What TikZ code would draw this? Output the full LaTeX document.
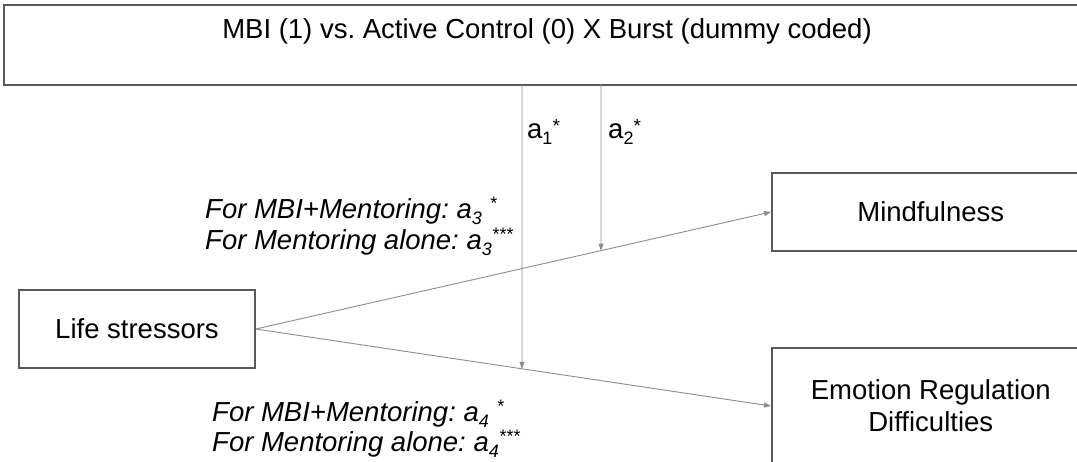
\documentclass[tikz,border=0pt]{standalone}
\usepackage{fontspec}
\setmainfont{Liberation Sans}
\usetikzlibrary{arrows.meta,calc}
\frenchspacing
\newcommand{\mysub}[1]{\raisebox{-6pt}{\fontsize{18}{18}\selectfont #1}}
\newcommand{\mysupi}[1]{\raisebox{9pt}{\fontsize{18}{18}\selectfont #1}}
\newcommand{\mysupa}[1]{\raisebox{6pt}{\fontsize{19}{19}\selectfont #1}}
\begin{document}
\begin{tikzpicture}[x=1pt,y=-1pt,
  box/.style={draw=black!65,line width=1.5pt,fill=white,inner sep=0pt,font=\fontsize{27.5}{32}\selectfont,align=center},
  conn/.style={draw=black!45,line width=0.9pt,-{Triangle[length=7pt,width=5pt]}},
  lab/.style={font=\fontsize{27.5}{28}\selectfont,inner sep=0pt},
  ilab/.style={font=\fontsize{27.5}{28}\selectfont\itshape,inner sep=0pt,text height=21pt,text depth=6pt,anchor=base west}]
\clip (0,0) rectangle (1077,461);
\fill[white] (0,0) rectangle (1077,461);
% boxes
\node[box,minimum width=1087pt,minimum height=80pt,anchor=north west] (top) at (3,4) {};
\node[lab] (toptext) at (547,31) {MBI (1) vs. Active Control (0) X Burst (dummy coded)};
\node[box,minimum width=236pt,minimum height=78pt] (ls) at (137,329) {Life stressors};
\node[box,minimum width=318pt,minimum height=78pt,anchor=west] (mf) at (771,212) {Mindfulness};
\node[box,minimum width=318pt,minimum height=116pt,anchor=west] (er) at (771,406) {Emotion Regulation\\Difficulties};
% paths
\coordinate (lsE) at (ls.east);
\coordinate (mfW) at (mf.west);
\coordinate (erW) at (er.west);
\draw[conn] (lsE) -- (mfW);
\draw[conn] (lsE) -- (erW);
\coordinate (a1s) at (522,84);
\coordinate (a1b) at (522,460);
\coordinate (a2s) at (601,84);
\coordinate (a2b) at (601,460);
\coordinate (a1e) at (intersection of lsE--erW and a1s--a1b);
\coordinate (a2e) at (intersection of lsE--mfW and a2s--a2b);
\draw[conn] (a1s) -- (a1e);
\draw[conn] (a2s) -- (a2e);
% labels
\node[lab,anchor=base west] (la1) at (527,138) {a\mysub{1}\mysupa{*}};
\node[lab,anchor=base west] (la2) at (608,138) {a\mysub{2}\mysupa{*}};
\node[ilab] (l3a) at (205,218) {For MBI+Mentoring: a\mysub{3} \mysupi{*}};
\node[ilab] (l3b) at (205,249) {For Mentoring alone: a\mysub{3}\mysupi{***}};
\node[ilab] (l4a) at (212,421) {For MBI+Mentoring: a\mysub{4} \mysupi{*}};
\node[ilab] (l4b) at (212,451) {For Mentoring alone: a\mysub{4}\mysupi{***}};
\end{tikzpicture}
\end{document}
